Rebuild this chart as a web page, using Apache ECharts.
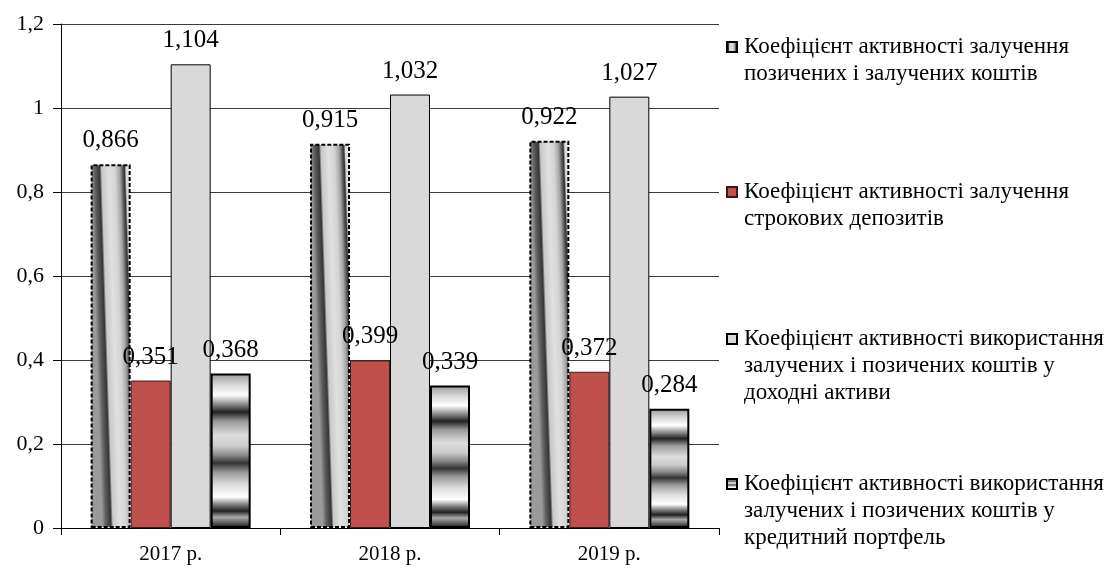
<!DOCTYPE html>
<html>
<head>
<meta charset="utf-8">
<script src="https://cdn.jsdelivr.net/npm/echarts@6/dist/echarts.min.js"></script>
<style>
  html, body { margin: 0; padding: 0; background: #fff; }
  #chart { width: 1112px; height: 568px; }
</style>
</head>
<body>
<div id="chart"></div>
<script>
// Categories and values of the four ratios
const years = ['2017 р.', '2018 р.', '2019 р.'];
const borrowedRatio = [0.866, 0.915, 0.922];
const termDepositRatio = [0.351, 0.399, 0.372];
const earningAssetsRatio = [1.104, 1.032, 1.027];
const loanPortfolioRatio = [0.368, 0.339, 0.284];

const seriesNames = [
  'Коефіцієнт активності залучення позичених і залучених коштів',
  'Коефіцієнт активності залучення строкових депозитів',
  'Коефіцієнт активності використання залучених і позичених коштів у доходні активи',
  'Коефіцієнт активності використання залучених і позичених коштів у кредитний портфель'
];
const legendLines = [
  ['Коефіцієнт активності залучення', 'позичених і залучених коштів'],
  ['Коефіцієнт активності залучення', 'строкових депозитів'],
  ['Коефіцієнт активності використання', 'залучених і позичених коштів у', 'доходні активи'],
  ['Коефіцієнт активності використання', 'залучених і позичених коштів у', 'кредитний портфель']
];

const SERIF = '"Liberation Serif", "Times New Roman", serif';
const LINE_H = 27;

const comma = (v, d) => v.toFixed(d).replace('.', ',');

// Twisted grey texture for the first series (slightly slanted stripes)
const twistFill = new echarts.graphic.LinearGradient(0, 0, 1, -0.0035, [
  { offset: 0, color: '#9a9a9a' },
  { offset: 0.1, color: '#5e5e5e' },
  { offset: 0.22, color: '#363636' },
  { offset: 0.27, color: '#c8c8c8' },
  { offset: 0.45, color: '#e0e0e0' },
  { offset: 0.6, color: '#d4d4d4' },
  { offset: 0.72, color: '#a4a4a4' },
  { offset: 0.8, color: '#525252' },
  { offset: 0.84, color: '#333333' },
  { offset: 0.88, color: '#d8d8d8' },
  { offset: 1, color: '#f8f8f8' }
]);

// Horizontal metallic bands for the fourth series
const bandFill = new echarts.graphic.LinearGradient(0, 0, 0, 1, [
  { offset: 0, color: '#9a9a9a' },
  { offset: 0.08, color: '#dcdcdc' },
  { offset: 0.14, color: '#ffffff' },
  { offset: 0.2, color: '#8a8a8a' },
  { offset: 0.25, color: '#222222' },
  { offset: 0.31, color: '#9a9a9a' },
  { offset: 0.4, color: '#dddddd' },
  { offset: 0.47, color: '#cccccc' },
  { offset: 0.53, color: '#888888' },
  { offset: 0.58, color: '#333333' },
  { offset: 0.64, color: '#9a9a9a' },
  { offset: 0.72, color: '#dddddd' },
  { offset: 0.8, color: '#ffffff' },
  { offset: 0.85, color: '#7a7a7a' },
  { offset: 0.89, color: '#222222' },
  { offset: 0.93, color: '#aaaaaa' },
  { offset: 0.97, color: '#555555' },
  { offset: 1, color: '#111111' }
]);

const styles = [
  { color: twistFill, borderColor: '#000', borderWidth: 2, borderType: [4, 2] },
  { color: '#C0504D', borderColor: '#3a1a1a', borderWidth: 1 },
  { color: '#D9D9D9', borderColor: '#000', borderWidth: 1 },
  { color: bandFill, borderColor: '#000', borderWidth: 2 }
];
const values = [borrowedRatio, termDepositRatio, earningAssetsRatio, loanPortfolioRatio];

const series = values.map((vals, i) => ({
  name: seriesNames[i],
  type: 'bar',
  barWidth: 40,
  barGap: '0%',
  data: vals,
  itemStyle: styles[i],
  label: {
    show: true,
    position: 'top',
    distance: 11,
    color: '#000',
    fontFamily: SERIF,
    fontSize: 25,
    formatter: p => comma(p.value, 3)
  },
  emphasis: { disabled: true }
}));

// One legend block per series; blank lines above the text keep the icon
// level with the first text line
const iconCenters = [47, 192, 339, 484];
const legends = seriesNames.map((name, i) => {
  const n = legendLines[i].length;
  return {
    orient: 'vertical',
    left: 726,
    top: iconCenters[i] - (2 * n - 1) * LINE_H / 2,
    padding: 0,
    itemWidth: 10,
    itemHeight: 10,
    icon: 'rect',
    selectedMode: false,
    data: [name],
    formatter: () => '\n'.repeat(n - 1) + legendLines[i].join('\n'),
    textStyle: {
      fontFamily: SERIF,
      fontSize: 23,
      lineHeight: LINE_H,
      color: '#000',
      padding: [0, 0, 0, 2]
    }
  };
});

const chart = echarts.init(document.getElementById('chart'), null, { renderer: 'canvas' });
chart.setOption({
  animation: false,
  backgroundColor: '#fff',
  legend: legends,
  grid: { left: 61, right: 393, top: 24, bottom: 40, containLabel: false },
  xAxis: {
    type: 'category',
    data: years,
    axisLine: { lineStyle: { color: '#000', width: 1 } },
    axisTick: { show: true, length: 7, lineStyle: { color: '#000' } },
    axisLabel: { color: '#000', fontFamily: SERIF, fontSize: 21, margin: 16 }
  },
  yAxis: {
    type: 'value',
    min: 0,
    max: 1.2,
    interval: 0.2,
    axisLine: { show: true, lineStyle: { color: '#000', width: 1 } },
    axisTick: { show: true, length: 8, lineStyle: { color: '#000' } },
    axisLabel: {
      color: '#000',
      fontFamily: SERIF,
      fontSize: 22,
      margin: 17,
      formatter: v => String(Number(v.toFixed(1))).replace('.', ',')
    },
    splitLine: { show: true, lineStyle: { color: '#3a3a3a', width: 1 } }
  },
  series: series
});
</script>
</body>
</html>
